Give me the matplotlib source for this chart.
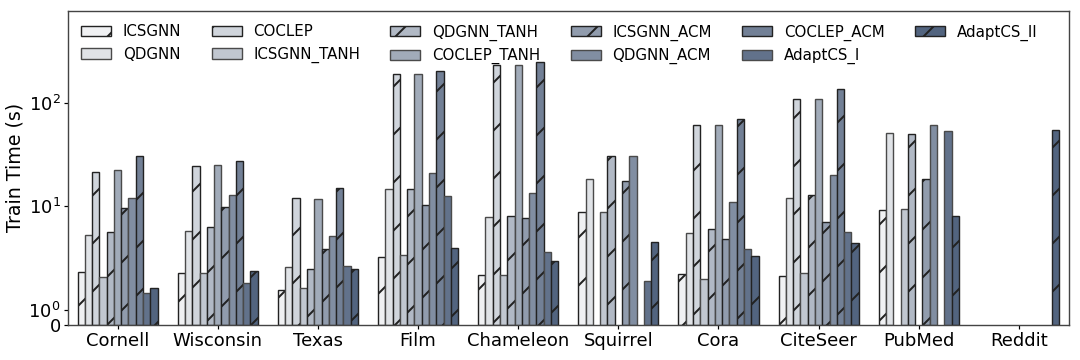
import numpy as np
import matplotlib
matplotlib.use("Agg")
import matplotlib.pyplot as plt

datasets = ["Cornell", "Wisconsin", "Texas", "Film", "Chameleon", "Squirrel",
            "Cora", "CiteSeer", "PubMed", "Reddit"]
methods = ["ICSGNN", "QDGNN", "COCLEP", "ICSGNN_TANH", "QDGNN_TANH", "COCLEP_TANH",
           "ICSGNN_ACM", "QDGNN_ACM", "COCLEP_ACM", "AdaptCS_I", "AdaptCS_II"]
nan = np.nan
icsgnn      = [2.33, 2.25, 1.54, 3.22, 2.17, 8.7, 2.2, 2.12, 9.1, nan]
qdgnn       = [5.24, 5.8, 2.59, 14.7, 7.86, 18.4, 5.5, 12.1, 50.8, nan]
coclep      = [21.6, 24.2, 12.0, 187, 232, nan, 60.5, 108, nan, nan]
icsgnn_tanh = [2.09, 2.25, 1.61, 3.34, 2.14, 8.7, 1.98, 2.28, 9.45, nan]
qdgnn_tanh  = [5.63, 6.3, 2.45, 14.8, 8.0, 30.6, 6.0, 12.8, 50.0, nan]
coclep_tanh = [22.2, 25.1, 11.8, 187, 232, nan, 60.5, 108, nan, nan]
icsgnn_acm  = [9.7, 9.9, 3.86, 10.2, 7.7, 17.6, 4.84, 6.98, 18.2, nan]
qdgnn_acm   = [12.0, 12.8, 5.13, 20.7, 13.4, 30.6, 11.0, 19.8, 60.5, nan]
coclep_acm  = [30.3, 27.3, 15.1, 202, 245, nan, 69.5, 135, nan, nan]
adaptcs_i   = [1.46, 1.82, 2.63, 12.5, 3.64, 1.88, 3.82, 5.63, 52.8, nan]
adaptcs_ii  = [1.63, 2.38, 2.45, 3.98, 2.93, 4.47, 3.27, 4.39, 8.0, 54.0]

series = [icsgnn, qdgnn, coclep, icsgnn_tanh, qdgnn_tanh, coclep_tanh,
          icsgnn_acm, qdgnn_acm, coclep_acm, adaptcs_i, adaptcs_ii]
colors = ["#f0f1f3", "#e0e3e7", "#d0d5dc", "#c1c7d0", "#b1b9c5", "#a1abb9",
          "#919cad", "#818ea2", "#728096", "#62728b", "#52647f"]

fig = plt.figure(figsize=(7.5, 2.5), dpi=144)
ax = fig.add_axes([0.0625, 0.0972, 0.9273, 0.8728])

n = len(methods)
width = 0.8 / n
x = np.arange(len(datasets))
for i, (name, vals) in enumerate(zip(methods, series)):
    hatched = (i % 2 == 0)
    ax.bar(x - 0.4 + width * (i + 0.5), vals, width, label=name,
           color=colors[i], edgecolor="#222222" if hatched else "#4a4a4a",
           linewidth=0.7, hatch="/" if hatched else None)

ax.set_yscale("symlog", linthresh=1, linscale=0.133)
ax.set_ylim(0, 770)
ax.set_xlim(-0.5, len(datasets) - 0.5)
ax.set_xticks(x)
ax.set_xticklabels(datasets, fontsize=9)
ax.tick_params(axis="both", length=1.8, width=0.6, pad=1.6)
ax.tick_params(axis="y", labelsize=9)
for s in ax.spines.values():
    s.set_linewidth(0.7)
    s.set_color("#444444")
ax.set_ylabel("Train Time (s)", fontsize=9.5, labelpad=2)
ax.legend(loc="upper left", ncol=6, frameon=False, fontsize=7.5)

fig.savefig("out.png", dpi=144)
